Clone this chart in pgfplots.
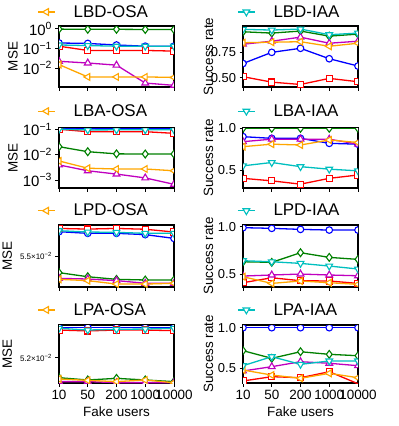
\documentclass[border=0pt]{standalone}
\usepackage{fontspec}
\setmainfont{Liberation Sans}
\usepackage{pgfplots}
\pgfplotsset{compat=1.18}
\definecolor{cB}{rgb}{0,0,1}
\definecolor{cR}{rgb}{1,0,0}
\definecolor{cG}{rgb}{0,0.5,0}
\definecolor{cM}{rgb}{0.75,0,0.75}
\definecolor{cO}{rgb}{1,0.65,0}
\definecolor{cC}{rgb}{0,0.75,0.75}
\newcommand{\ttl}[1]{\fontsize{17}{17}\selectfont #1}
\pgfplotsset{
  sB/.style={cB, line width=1.3bp, mark=*, mark size=3.3bp, mark options={fill=white, line width=1.1bp}},
  sR/.style={cR, line width=1.3bp, mark=square*, mark size=3.1bp, mark options={fill=white, line width=1.1bp}},
  sG/.style={cG, line width=1.3bp, mark=diamond*, mark size=3.9bp, mark options={fill=white, line width=1.1bp}},
  sM/.style={cM, line width=1.3bp, mark=triangle*, mark size=3.9bp, mark options={fill=white, line width=1.1bp}},
  sO/.style={cO, line width=1.3bp, mark=triangle*, mark size=3.9bp, mark options={fill=white, line width=1.1bp, rotate=90}},
  sC/.style={cC, line width=1.3bp, mark=triangle*, mark size=3.9bp, mark options={fill=white, line width=1.1bp, rotate=180}},
  cell/.style={
    scale only axis, width=115bp, anchor=north west,
    xmin=0, xmax=4, xtick={0,1,2,3,4}, xticklabels={},
    axis line style={line width=1.2bp},
    tick style={line width=0.8bp, black}, major tick length=3.5bp, tick align=outside,
    xtick pos=bottom, ytick pos=left,
    minor tick style={draw=none},
    scaled y ticks=false,
    ticklabel style={font=\fontsize{13}{13}\selectfont},
    xticklabel style={font=\fontsize{13.5}{13.5}\selectfont},
    ylabel style={font=\fontsize{13.5}{13.5}\selectfont, anchor=center},
    xlabel style={font=\fontsize{13.5}{13.5}\selectfont},
    /pgf/number format/assume math mode=true,
    clip marker paths=true,
    legend style={draw=none, fill=none, anchor=west,
      inner sep=0pt, nodes={inner xsep=0pt, inner ysep=0pt}},
  },
  logl/.style={yticklabel style={font=\fontsize{15}{15}\selectfont}},
  cl/.style={cell, ylabel={MSE}, ylabel style={at={(axis description cs:-0.40,0.5)}},
    legend style={at={(axis description cs:-0.19,1.23)}}},
  cr/.style={cell, ylabel={Success rate}, ylabel style={at={(axis description cs:-0.30,0.5)}},
    legend style={at={(axis description cs:-0.052,1.23)}}},
}
\begin{document}
\begin{tikzpicture}
\path[use as bounding box] (0,0) rectangle (399bp,-426bp);

% row 1 left: LBD-OSA
\begin{axis}[cl, logl, at={(59bp,-26bp)}, height=61bp, ymode=log, ymin=1.07e-3, ymax=1.4,
  ytick={0.01,0.1,1}, yticklabels={10\textsuperscript{−2},10\textsuperscript{−1},10\textsuperscript{0}}]
\addlegendimage{sO}\addlegendentry{\hspace{18bp}\ttl{LBD-OSA}}
\addplot[sB] coordinates {(0,0.19) (1,0.18) (2,0.15) (3,0.13) (4,0.13)};
\addplot[sR] coordinates {(0,0.13) (1,0.079) (2,0.079) (3,0.079) (4,0.073)};
\addplot[sG] coordinates {(0,0.97) (1,0.95) (2,0.95) (3,0.93) (4,0.92)};
\addplot[sM] coordinates {(0,0.022) (1,0.018) (2,0.014) (3,0.0017) (4,0.0013)};
\addplot[sO] coordinates {(0,0.015) (1,0.0035) (2,0.0035) (3,0.0035) (4,0.0033)};
\addplot[sC] coordinates {(0,0.15) (1,0.14) (2,0.13) (3,0.13) (4,0.13)};
\end{axis}

% row 1 right: LBD-IAA
\begin{axis}[cr, at={(243bp,-26bp)}, height=61bp, ymin=0.408, ymax=1.01,
  ytick={0.5,0.75}, yticklabels={0.50,0.75}]
\addlegendimage{sC}\addlegendentry{\hspace{18bp}\ttl{LBD-IAA}}
\addplot[sB] coordinates {(0,0.64) (1,0.75) (2,0.79) (3,0.687) (4,0.615)};
\addplot[sR] coordinates {(0,0.51) (1,0.456) (2,0.433) (3,0.493) (4,0.46)};
\addplot[sG] coordinates {(0,0.953) (1,0.94) (2,0.96) (3,0.91) (4,0.93)};
\addplot[sM] coordinates {(0,0.83) (1,0.86) (2,0.90) (3,0.84) (4,0.86)};
\addplot[sO] coordinates {(0,0.845) (1,0.85) (2,0.855) (3,0.81) (4,0.84)};
\addplot[sC] coordinates {(0,0.977) (1,0.97) (2,0.98) (3,0.924) (4,0.94)};
\end{axis}

% row 2 left: LBA-OSA
\begin{axis}[cl, logl, at={(59bp,-128bp)}, height=60bp, ymode=log, ymin=4.8e-4, ymax=0.112,
  legend style={at={(axis description cs:-0.19,1.28)}},
  ytick={0.001,0.01,0.1}, yticklabels={10\textsuperscript{−3},10\textsuperscript{−2},10\textsuperscript{−1}}]
\addlegendimage{sO}\addlegendentry{\hspace{18bp}\ttl{LBA-OSA}}
\addplot[sB] coordinates {(0,0.108) (1,0.106) (2,0.105) (3,0.105) (4,0.105)};
\addplot[sR] coordinates {(0,0.1) (1,0.08) (2,0.08) (3,0.08) (4,0.069)};
\addplot[sG] coordinates {(0,0.0205) (1,0.013) (2,0.0107) (3,0.0105) (4,0.0105)};
\addplot[sM] coordinates {(0,0.0039) (1,0.0023) (2,0.0017) (3,0.0012) (4,0.00067)};
\addplot[sO] coordinates {(0,0.0056) (1,0.0029) (2,0.0027) (3,0.0027) (4,0.0023)};
\addplot[sC] coordinates {(0,0.10) (1,0.094) (2,0.095) (3,0.095) (4,0.095)};
\end{axis}

% row 2 right: LBA-IAA
\begin{axis}[cr, at={(243bp,-128bp)}, height=60bp, ymin=0.284, ymax=1.004,
  legend style={at={(axis description cs:-0.052,1.28)}},
  ytick={0.5,1.0}, yticklabels={0.5,1.0}]
\addlegendimage{sC}\addlegendentry{\hspace{18bp}\ttl{LBA-IAA}}
\addplot[sB] coordinates {(0,0.90) (1,0.88) (2,0.88) (3,0.82) (4,0.81)};
\addplot[sR] coordinates {(0,0.40) (1,0.37) (2,0.33) (3,0.40) (4,0.44)};
\addplot[sG] coordinates {(0,1.0) (1,1.0) (2,1.0) (3,1.0) (4,1.0)};
\addplot[sM] coordinates {(0,0.84) (1,0.87) (2,0.87) (3,0.87) (4,0.81)};
\addplot[sO] coordinates {(0,0.78) (1,0.81) (2,0.80) (3,0.86) (4,0.83)};
\addplot[sC] coordinates {(0,0.55) (1,0.59) (2,0.54) (3,0.51) (4,0.49)};
\end{axis}

% row 3 left: LPD-OSA
\begin{axis}[cl, at={(59bp,-225bp)}, height=62bp, ymin=0.0531, ymax=0.0569,
  ylabel style={at={(axis description cs:-0.45,0.5)}},
  ytick={0.055}, yticklabels={5.5×10\textsuperscript{−2}},
  yticklabel style={font=\fontsize{8}{8}\selectfont}]
\addlegendimage{sO}\addlegendentry{\hspace{18bp}\ttl{LPD-OSA}}
\addplot[sB] coordinates {(0,0.05649) (1,0.05639) (2,0.05639) (3,0.05631) (4,0.05608)};
\addplot[sR] coordinates {(0,0.05669) (1,0.05665) (2,0.05669) (3,0.05664) (4,0.05647)};
\addplot[sG] coordinates {(0,0.05398) (1,0.05373) (2,0.05357) (3,0.05353) (4,0.05353)};
\addplot[sM] coordinates {(0,0.05363) (1,0.05359) (2,0.05349) (3,0.05333) (4,0.05333)};
\addplot[sO] coordinates {(0,0.05357) (1,0.05349) (2,0.05328) (3,0.05328) (4,0.05333)};
\addplot[sC] coordinates {(0,0.05655) (1,0.05647) (2,0.05645) (3,0.05639) (4,0.05639)};
\end{axis}

% row 3 right: LPD-IAA
\begin{axis}[cr, at={(243bp,-225bp)}, height=62bp, ymin=0.367, ymax=1.018,
  ytick={0.5,1.0}, yticklabels={0.5,1.0}]
\addlegendimage{sC}\addlegendentry{\hspace{18bp}\ttl{LPD-IAA}}
\addplot[sB] coordinates {(0,0.99) (1,0.983) (2,0.972) (3,0.965) (4,0.965)};
\addplot[sR] coordinates {(0,0.412) (1,0.464) (2,0.433) (3,0.43) (4,0.405)};
\addplot[sG] coordinates {(0,0.632) (1,0.626) (2,0.727) (3,0.678) (4,0.657)};
\addplot[sM] coordinates {(0,0.482) (1,0.493) (2,0.503) (3,0.493) (4,0.485)};
\addplot[sO] coordinates {(0,0.475) (1,0.405) (2,0.43) (3,0.412) (4,0.395)};
\addplot[sC] coordinates {(0,0.643) (1,0.632) (2,0.615) (3,0.587) (4,0.556)};
\end{axis}

% row 4 left: LPA-OSA
\begin{axis}[cl, at={(59bp,-325bp)}, height=58bp, ymin=0.0500, ymax=0.0546,
  legend style={at={(axis description cs:-0.19,1.26)}},
  ylabel style={at={(axis description cs:-0.45,0.5)}},
  ytick={0.052}, yticklabels={5.2×10\textsuperscript{−2}},
  yticklabel style={font=\fontsize{8}{8}\selectfont},
  xticklabels={10,50,200,1000,10000}, xlabel={Fake users}]
\addlegendimage{sO}\addlegendentry{\hspace{18bp}\ttl{LPA-OSA}}
\addplot[sB] coordinates {(0,0.05442) (1,0.05442) (2,0.05442) (3,0.05442) (4,0.05442)};
\addplot[sR] coordinates {(0,0.05420) (1,0.05413) (2,0.05420) (3,0.05420) (4,0.05415)};
\addplot[sG] coordinates {(0,0.05042) (1,0.05024) (2,0.05037) (3,0.05024) (4,0.05011)};
\addplot[sM] coordinates {(0,0.05011) (1,0.05011) (2,0.05003) (3,0.05003) (4,0.05003)};
\addplot[sO] coordinates {(0,0.05032) (1,0.05021) (2,0.05011) (3,0.05024) (4,0.05002)};
\addplot[sC] coordinates {(0,0.05434) (1,0.05420) (2,0.05426) (3,0.05428) (4,0.05434)};
\end{axis}

% row 4 right: LPA-IAA
\begin{axis}[cr, at={(243bp,-325bp)}, height=58bp, ymin=0.319, ymax=1.033,
  legend style={at={(axis description cs:-0.052,1.26)}},
  ytick={0.5,1.0}, yticklabels={0.5,1.0},
  xticklabels={10,50,200,1000,10000}, xlabel={Fake users}]
\addlegendimage{sC}\addlegendentry{\hspace{18bp}\ttl{LPA-IAA}}
\addplot[sB] coordinates {(0,1.0) (1,1.0) (2,1.0) (3,1.0) (4,1.0)};
\addplot[sR] coordinates {(0,0.344) (1,0.397) (2,0.384) (3,0.458) (4,0.31)};
\addplot[sG] coordinates {(0,0.717) (1,0.623) (2,0.704) (3,0.672) (4,0.655)};
\addplot[sM] coordinates {(0,0.467) (1,0.52) (2,0.581) (3,0.562) (4,0.532)};
\addplot[sO] coordinates {(0,0.479) (1,0.417) (2,0.377) (3,0.438) (4,0.384)};
\addplot[sC] coordinates {(0,0.532) (1,0.643) (2,0.549) (3,0.59) (4,0.59)};
\end{axis}
\end{tikzpicture}
\end{document}
